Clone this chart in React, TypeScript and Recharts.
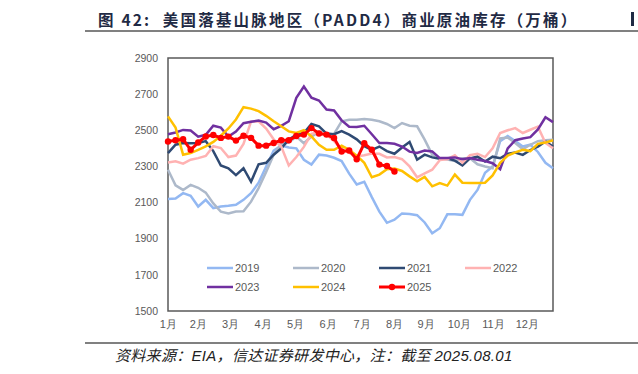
import React from 'react';
import { LineChart, Line, XAxis, YAxis, ReferenceArea, Legend } from 'recharts';

const s2019 = [2120, 2122, 2152, 2138, 2078, 2115, 2069, 2078, 2082, 2088, 2115, 2152, 2210, 2300, 2388, 2415, 2405, 2400, 2337, 2310, 2365, 2360, 2348, 2330, 2260, 2200, 2215, 2130, 2050, 1988, 2005, 2040, 2037, 2030, 1990, 1930, 1958, 2035, 2035, 2032, 2115, 2170, 2265, 2300, 2440, 2468, 2440, 2410, 2420, 2380, 2320, 2290];
const s2020 = [2282, 2195, 2170, 2198, 2182, 2155, 2095, 2050, 2040, 2050, 2052, 2105, 2180, 2270, 2365, 2425, 2432, 2465, 2428, 2465, 2492, 2478, 2480, 2550, 2558, 2558, 2562, 2558, 2550, 2535, 2512, 2540, 2525, 2522, 2448, 2365, 2345, 2338, 2330, 2345, 2345, 2312, 2300, 2290, 2455, 2460, 2430, 2395, 2420, 2440, 2445, 2448];
const s2021 = [2374, 2420, 2430, 2428, 2430, 2440, 2385, 2305, 2290, 2252, 2290, 2215, 2312, 2320, 2365, 2400, 2448, 2476, 2485, 2535, 2522, 2482, 2478, 2495, 2476, 2450, 2412, 2392, 2410, 2385, 2370, 2405, 2435, 2337, 2365, 2350, 2342, 2345, 2332, 2305, 2345, 2354, 2327, 2354, 2345, 2370, 2377, 2364, 2391, 2410, 2438, 2410];
const s2022 = [2322, 2328, 2315, 2337, 2346, 2358, 2412, 2402, 2352, 2360, 2425, 2548, 2550, 2510, 2450, 2410, 2305, 2352, 2408, 2480, 2490, 2476, 2440, 2395, 2375, 2355, 2362, 2372, 2370, 2350, 2352, 2340, 2300, 2240, 2262, 2282, 2335, 2340, 2362, 2320, 2362, 2370, 2352, 2400, 2485, 2500, 2512, 2485, 2503, 2520, 2430, 2400];
const s2023 = [2478, 2488, 2502, 2499, 2465, 2475, 2525, 2515, 2465, 2493, 2539, 2547, 2554, 2543, 2506, 2525, 2550, 2680, 2742, 2680, 2665, 2615, 2610, 2555, 2520, 2518, 2525, 2478, 2429, 2429, 2425, 2410, 2382, 2374, 2388, 2383, 2346, 2346, 2350, 2340, 2346, 2337, 2330, 2318, 2285, 2400, 2445, 2455, 2462, 2505, 2572, 2545];
const s2024 = [2577, 2515, 2365, 2374, 2392, 2411, 2436, 2470, 2510, 2560, 2628, 2620, 2606, 2580, 2550, 2522, 2494, 2485, 2500, 2466, 2420, 2392, 2392, 2415, 2392, 2360, 2320, 2240, 2255, 2285, 2288, 2275, 2245, 2218, 2242, 2190, 2208, 2194, 2255, 2210, 2208, 2208, 2210, 2250, 2320, 2360, 2378, 2392, 2385, 2425, 2432, 2445];
const s2025 = [2438, 2445, 2450, 2392, 2432, 2466, 2474, 2458, 2465, 2443, 2470, 2458, 2415, 2415, 2430, 2445, 2445, 2468, 2476, 2512, 2482, 2476, 2457, 2383, 2388, 2340, 2428, 2392, 2310, 2302, 2272];

const seriesNames = ['2019', '2020', '2021', '2022', '2023', '2024', '2025'];
const seriesValues = [s2019, s2020, s2021, s2022, s2023, s2024, s2025];
const seriesColors = ['#93B8F2', '#ADB9CA', '#2F4A73', '#FFB2B2', '#7030A0', '#FFC000', '#FF0000'];

const monthTicks = [0.05, 4.0, 8.3, 12.6, 16.9, 21.2, 25.7, 30.0, 34.2, 38.6, 43.1, 47.6];
const monthLabels = ['1月', '2月', '3月', '4月', '5月', '6月', '7月', '8月', '9月', '10月', '11月', '12月'];
const yTicks = [1500, 1700, 1900, 2100, 2300, 2500, 2700, 2900];

const data = s2019.map((_, i) => {
  const row: Record<string, number | undefined> = { w: i };
  seriesNames.forEach((n, k) => {
    row['y' + n] = seriesValues[k][i];
  });
  return row;
});

const axisFont = '"Liberation Sans", Arial, sans-serif';

const renderLegend = () => (
  <div style={{ position: 'relative', width: 350, height: 40 }}>
    {seriesNames.map((n, idx) => {
      const col = idx % 4;
      const row = Math.floor(idx / 4);
      const isLast = n === '2025';
      return (
        <div
          key={n}
          style={{
            position: 'absolute',
            left: col * 86,
            top: row * 18.5,
            display: 'flex',
            alignItems: 'center',
            height: 14,
          }}
        >
          <svg width={26} height={10} style={{ display: 'block' }}>
            <line x1={0} y1={5} x2={26} y2={5} stroke={seriesColors[idx]} strokeWidth={isLast ? 3 : 2.5} />
            {isLast && <circle cx={13} cy={5} r={3.2} fill={seriesColors[idx]} />}
          </svg>
          <span style={{ marginLeft: 2, fontSize: 11, color: '#595959', fontFamily: axisFont, lineHeight: '14px' }}>{n}</span>
        </div>
      );
    })}
  </div>
);

export default function App() {
  return (
    <div style={{ position: 'absolute', left: 0, top: 0, width: 638, height: 374, background: '#fff', overflow: 'hidden' }}>
      <div
        style={{
          position: 'absolute',
          left: 98,
          top: 9,
          fontSize: 15.5,
          fontWeight: 700,
          letterSpacing: 2.2,
          color: '#1F2A44',
          fontFamily: '"Noto Sans CJK SC", sans-serif',
          whiteSpace: 'nowrap',
          lineHeight: '20px',
        }}
      >
        图 42:&nbsp; 美国落基山脉地区（PADD4）商业原油库存（万桶）
      </div>
      <div style={{ position: 'absolute', left: 631, top: 12, width: 3, height: 14, background: '#1F2A44' }} />
      <div style={{ position: 'absolute', left: 85, top: 30, width: 553, height: 2, background: '#808080' }} />
      <div style={{ position: 'absolute', left: 85, top: 342, width: 553, height: 2, background: '#808080' }} />
      <div
        style={{
          position: 'absolute',
          left: 115,
          top: 345,
          fontSize: 15,
          letterSpacing: 0.3,
          fontStyle: 'italic',
          color: '#222',
          fontFamily: '"Noto Sans CJK SC", sans-serif',
          whiteSpace: 'nowrap',
          lineHeight: '20px',
        }}
      >
        资料来源：<span style={{ fontFamily: '"Liberation Sans", Arial, sans-serif' }}>EIA</span>，信达证券研发中心，注：截至 <span style={{ fontFamily: '"Liberation Sans", Arial, sans-serif' }}>2025.08.01</span>
      </div>
      <div style={{ position: 'absolute', left: 0, top: 0 }}>
        <LineChart width={638} height={374} data={data} margin={{ top: 58, right: 85, bottom: 38, left: 108 }}>
          <XAxis
            dataKey="w"
            type="number"
            domain={[0, 51]}
            ticks={monthTicks}
            interval={0}
            tickFormatter={(v: number, i: number) => monthLabels[i]}
            axisLine={false}
            tickLine={false}
            tickSize={0}
            tickMargin={9}
            height={25}
            tick={{ fill: '#595959', fontSize: 11, fontFamily: axisFont }}
          />
          <YAxis
            type="number"
            domain={[1500, 2900]}
            ticks={yTicks}
            interval={0}
            axisLine={false}
            tickLine={false}
            tickSize={0}
            tickMargin={10}
            width={60}
            tick={{ fill: '#595959', fontSize: 10.5, fontFamily: axisFont }}
          />
          <ReferenceArea x1={0} x2={51} y1={1500} y2={2900} fill="none" stroke="#595959" strokeWidth={1.5} ifOverflow="visible" />
          {seriesNames.map((n, k) => (
            <Line
              key={n}
              type="linear"
              dataKey={'y' + n}
              stroke={seriesColors[k]}
              strokeWidth={n === '2025' ? 3 : 2.5}
              dot={n === '2025' ? { r: 3.2, fill: seriesColors[k], stroke: seriesColors[k], strokeWidth: 0 } : false}
              activeDot={false}
              isAnimationActive={false}
              connectNulls={false}
            />
          ))}
          <Legend
            layout="horizontal"
            verticalAlign="middle"
            align="center"
            content={renderLegend}
            wrapperStyle={{ position: 'absolute', left: 207, top: 261, width: 350, height: 40 }}
          />
        </LineChart>
      </div>
    </div>
  );
}
